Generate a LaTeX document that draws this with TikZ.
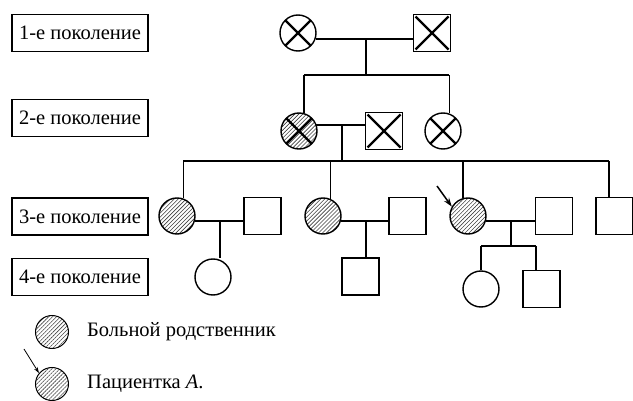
\documentclass[tikz,border=0pt]{standalone}
\usepackage{fontspec}
\setmainfont{Liberation Serif}
\usetikzlibrary{patterns.meta,arrows.meta}
\tikzset{
  base/.style={draw, line width=1.4pt, inner sep=0pt},
  fem/.style={base, circle, minimum size=36pt},
  male/.style={base, rectangle, minimum size=37pt},
  aff/.style={pattern={Lines[angle=45,distance=2.8pt,line width=0.6pt]}, pattern color=black!75},
  crossed/.style={path picture={\draw[line width=2.4pt]
      ([shift={(2pt,-2pt)}]path picture bounding box.north west) -- ([shift={(-2pt,2pt)}]path picture bounding box.south east)
      ([shift={(-2pt,-2pt)}]path picture bounding box.north east) -- ([shift={(2pt,2pt)}]path picture bounding box.south west);}},
  genbox/.style={draw, line width=1.2pt, minimum width=136pt, minimum height=37pt, inner sep=0pt, font=\fontsize{20.5}{24}\selectfont},
  link/.style={line width=1.6pt},
  legtext/.style={anchor=west, inner sep=0pt, font=\fontsize{20.5}{24}\selectfont},
  ptr/.style={line width=1.5pt, -{Stealth[length=9pt,width=6pt]}}
}
\begin{document}
\begin{tikzpicture}[x=1pt,y=-1pt]
\useasboundingbox (0,0) rectangle (633,401);
% generation labels
\node[genbox] (l1) at (80,33) {1-е поколение};
\node[genbox] (l2) at (80,118) {2-е поколение};
\node[genbox] (l3) at (80,216.5) {3-е поколение};
\node[genbox] (l4) at (80,277) {4-е поколение};
% generation 1
\node[fem,crossed] (g1f) at (298,33) {};
\node[male,crossed] (g1m) at (432,33) {};
% generation 2
\node[fem,aff,crossed] (g2f) at (299,131) {};
\node[male,crossed] (g2m) at (384,131) {};
\node[fem,crossed] (g2r) at (443,131) {};
% generation 3
\node[fem,aff] (g3f1) at (177,216) {};
\node[male] (g3m1) at (262.5,216) {};
\node[fem,aff] (g3f2) at (323,216) {};
\node[male] (g3m2) at (407.5,216) {};
\node[fem,aff] (g3f3) at (468,216) {};
\node[male] (g3m3) at (554,216) {};
\node[male] (g3m4) at (614.5,216) {};
% generation 4
\node[fem] (g4f1) at (213,277) {};
\node[male] (g4m2) at (360.5,276.5) {};
\node[fem] (g4f3) at (481,289) {};
\node[male] (g4m3) at (541.5,289) {};
% junction coordinates
\coordinate (m1) at (366,39);
\coordinate (s1) at (366,75);
\coordinate (m2) at (342,125);
\coordinate (s2) at (342,161);
\coordinate (m31) at (220,221);
\coordinate (m32) at (366,221);
\coordinate (m33) at (511,221);
\coordinate (s3) at (511,246);
% gen 1 marriage and sibship
\draw[link] (g1f.-19) -- (g1f.-19 -| g1m.west);
\draw[link] (m1) -- (s1);
\draw[link] (g2f.74 |- s1) -- (g2r.70 |- s1);
\draw[link] (g2f.74) -- (g2f.74 |- s1);
\draw[link] (g2r.70) -- (g2r.70 |- s1);
% gen 2 marriage and sibship
\draw[link] (g2f.19) -- (g2f.19 -| g2m.west);
\draw[link] (m2) -- (s2);
\draw[link] (g3f1.70 |- s2) -- (609,161) coordinate (s2r);
\draw[link] (g3f1.70) -- (g3f1.70 |- s2);
\draw[link] (g3f2.67) -- (g3f2.67 |- s2);
\draw[link] (g3f3.106) -- (g3f3.106 |- s2);
\draw[link] (s2r) -- (s2r |- g3m4.north);
% gen 3 marriages and children
\draw[link] (g3f1.-16) -- (g3f1.-16 -| g3m1.west);
\draw[link] (m31) -- (m31 |- g4f1.north);
\draw[link] (g3f2.-16) -- (g3f2.-16 -| g3m2.west);
\draw[link] (m32) -- (m32 |- g4m2.north);
\draw[link] (g3f3.-16) -- (g3f3.-16 -| g3m3.west);
\draw[link] (m33) -- (s3);
\draw[link] (g4f3.north |- s3) -- (536,246) coordinate (s3r);
\draw[link] (g4f3.north) -- (g4f3.north |- s3);
\draw[link] (s3r) -- (s3r |- g4m3.north);
% patient arrow
\coordinate (pa) at (437,186);
\draw[ptr] (pa) -- (g3f3.150);
% legend
\node[fem,aff,minimum size=33pt,line width=1pt] (lc1) at (52,332) {};
\node[fem,aff,minimum size=33pt,line width=1pt] (lc2) at (52,384) {};
\node[legtext] (lt1) at (87,332) {Больной родственник};
\node[legtext] (lt2) at (87,384) {Пациентка \textit{A}.};
\coordinate (la) at (24,349);
\draw[line width=0.8pt, -{Stealth[length=6pt,width=4pt]}] (la) -- (lc2.140);
\end{tikzpicture}
\end{document}
